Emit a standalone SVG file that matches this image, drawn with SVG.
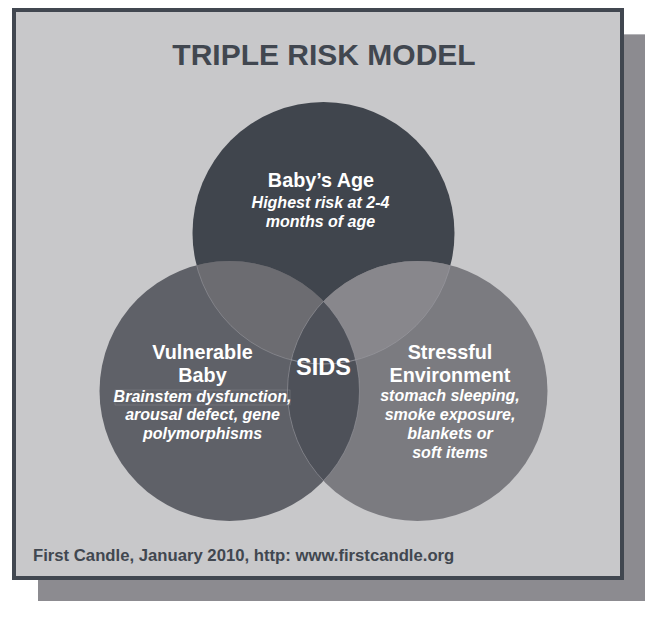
<svg xmlns="http://www.w3.org/2000/svg" width="645" height="625" viewBox="0 0 645 625">
  <style>
    .title { font-family: "Liberation Sans", Arial, sans-serif; font-weight: bold; fill: #414750; }
    .head { font-family: "Liberation Sans", Arial, sans-serif; font-weight: bold; font-size: 19.8px; fill: #ffffff; text-anchor: middle; }
    .sub { font-family: "Liberation Sans", Arial, sans-serif; font-weight: bold; font-style: italic; font-size: 16px; fill: #ffffff; text-anchor: middle; }
    .edge { fill: none; stroke: #a2a2a8; stroke-width: 0.8; opacity: 0.6; }
  </style>
  <defs>
    <clipPath id="clipLeft"><circle cx="229.5" cy="391" r="130"/></clipPath>
    <clipPath id="clipRight"><circle cx="417.5" cy="391" r="130"/></clipPath>
  </defs>

  <!-- frame -->
  <rect x="38" y="34" width="607" height="567" fill="#8c8b90"/>
  <line x1="624" y1="34.5" x2="645" y2="34.5" stroke="#b4b4b8" stroke-width="1"/>
  <rect x="14" y="10" width="608" height="568" fill="#c8c8ca" stroke="#414750" stroke-width="4"/>

  <text class="title" x="324" y="65" style="font-size:30px" text-anchor="middle">TRIPLE RISK MODEL</text>

  <g id="age">
    <circle cx="323.5" cy="233" r="131" fill="#40454d"/>
  </g>
  <g id="baby">
    <circle cx="229.5" cy="391" r="130" fill="#5f6168"/>
  </g>
  <g id="environment">
    <circle cx="417.5" cy="391" r="130" fill="#7b7b80"/>
  </g>
  <g id="overlaps">
    <circle cx="323.5" cy="233" r="131" fill="#6c6c71" clip-path="url(#clipLeft)"/>
    <circle cx="323.5" cy="233" r="131" fill="#88878c" clip-path="url(#clipRight)"/>
  </g>
  <g id="sids">
    <circle cx="229.5" cy="391" r="130" fill="#4e5159" clip-path="url(#clipRight)"/>
  </g>
  <g id="edges">
    <circle class="edge" cx="323.5" cy="233" r="131" clip-path="url(#clipLeft)"/>
    <circle class="edge" cx="323.5" cy="233" r="131" clip-path="url(#clipRight)"/>
    <circle class="edge" cx="417.5" cy="391" r="130" clip-path="url(#clipLeft)"/>
    <circle class="edge" cx="229.5" cy="391" r="130" clip-path="url(#clipRight)"/>
  </g>

  <g id="age-text">
    <text class="head" x="321" y="187">Baby’s Age</text>
    <text class="sub" x="320.5" y="208">Highest risk at 2-4</text>
    <text class="sub" x="320.5" y="227">months of age</text>
  </g>
  <g id="baby-text">
    <text class="head" x="202.5" y="359">Vulnerable</text>
    <text class="head" x="202.5" y="382">Baby</text>
    <rect x="115" y="390" width="175" height="15" fill="none" stroke="#8a8a90" stroke-width="0.6" opacity="0.7"/>
    <text class="sub" x="202.5" y="402">Brainstem dysfunction,</text>
    <text class="sub" x="202.5" y="420">arousal defect, gene</text>
    <text class="sub" x="202.5" y="439">polymorphisms</text>
  </g>
  <g id="env-text">
    <text class="head" x="450" y="359">Stressful</text>
    <text class="head" x="450" y="382">Environment</text>
    <text class="sub" x="450" y="401">stomach sleeping,</text>
    <text class="sub" x="450" y="420">smoke exposure,</text>
    <text class="sub" x="450" y="439">blankets or</text>
    <text class="sub" x="450" y="458">soft items</text>
  </g>
  <g id="sids-text">
    <text class="head" x="323.5" y="375" style="font-size:23.5px">SIDS</text>
  </g>

  <text class="title" x="33" y="561" style="font-size:16.7px">First Candle, January 2010, http: www.firstcandle.org</text>
</svg>
